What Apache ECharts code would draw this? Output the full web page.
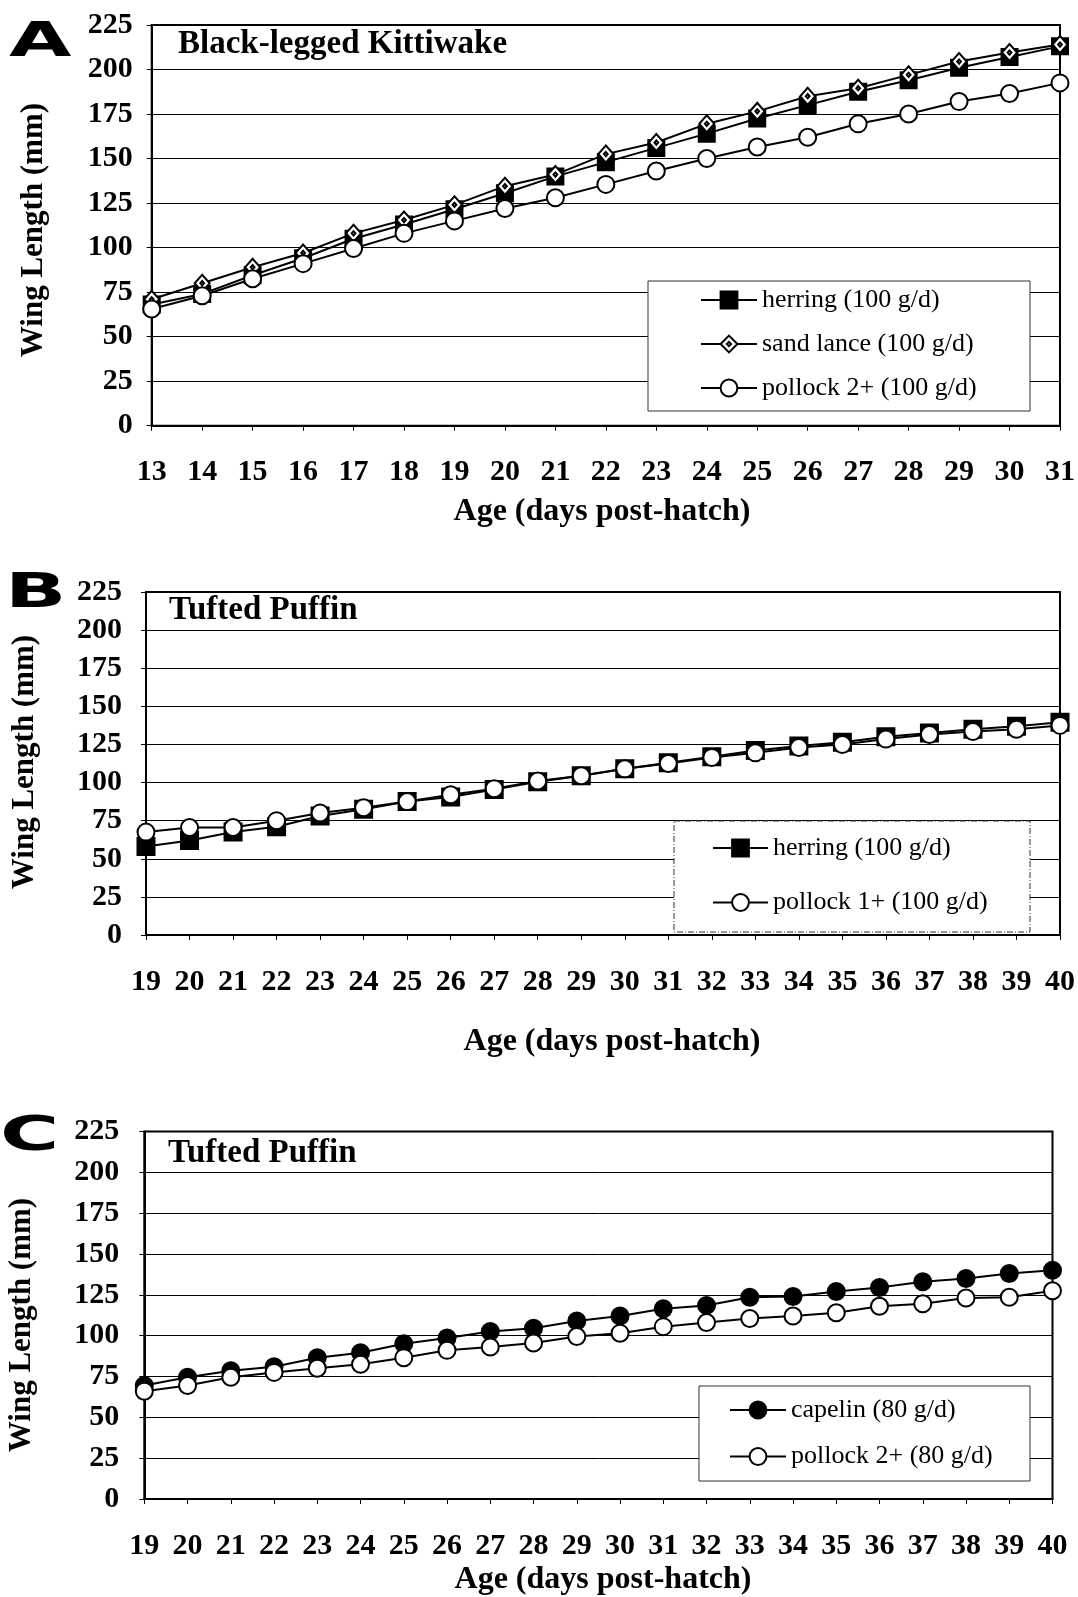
<!DOCTYPE html>
<html>
<head>
<meta charset="utf-8">
<script src="https://cdn.jsdelivr.net/npm/echarts@6/dist/echarts.min.js"></script>
<style>
  html, body { margin: 0; padding: 0; background: #fff; }
  #chart { width: 1078px; height: 1597px; }
</style>
</head>
<body>
<div id="chart"></div>
<script>
// panel A: Black-legged Kittiwake, days 13-31
var daysA = ['13','14','15','16','17','18','19','20','21','22','23','24','25','26','27','28','29','30','31'];
var herringA = [68, 74, 84.5, 94, 105, 113, 121.5, 130.5, 140, 148, 156, 164, 172.5, 180, 187.5, 194, 201, 207, 213];
var sandLanceA = [71, 80, 89, 97, 108, 115.5, 124, 134.5, 141, 152.5, 159, 169.5, 176.5, 185, 189.5, 197, 204.5, 209.5, 214];
var pollockA = [65.5, 73, 82.5, 91, 99.5, 108, 115, 122, 128, 135.5, 143, 150, 156.5, 162, 169.5, 175, 182, 186.5, 192.5];

// panel B: Tufted Puffin, days 19-40
var daysB = ['19','20','21','22','23','24','25','26','27','28','29','30','31','32','33','34','35','36','37','38','39','40'];
var herringB = [58, 62, 67.5, 71, 78, 82.5, 87.5, 90.5, 95.5, 100.5, 104.5, 109, 113, 117, 121, 124, 126.5, 130, 132.5, 135, 137, 139.5];
var pollock1B = [67.5, 70.5, 70.5, 75, 80, 83.5, 87.5, 92, 96, 101, 104.5, 109, 112.5, 116.5, 119.5, 123, 125, 128.5, 131.5, 133.5, 135, 137.5];

// panel C: Tufted Puffin, days 19-40
var daysC = daysB;
var capelinC = [69.5, 74.5, 78.5, 81, 86.5, 89.5, 95, 98.5, 102.5, 104.5, 109, 112, 116.5, 118.5, 123.5, 124, 127, 129.5, 133, 135, 138, 140];
var pollock2C = [66, 69.5, 74.5, 77.5, 80, 82.5, 86.5, 91, 93, 95.5, 99.5, 101.5, 105.5, 108, 110.5, 112, 114, 118, 119.5, 123, 123.5, 127.5];

var yTicks = [0, 225, 25];

var serif = 'Liberation Serif, Times New Roman, serif';
var chart = echarts.init(document.getElementById('chart'), null, { renderer: 'canvas' });

function xAxisOf(i, days) {
  return {
    type: 'category', gridIndex: i, data: days, boundaryGap: false,
    axisLine: { lineStyle: { color: '#000', width: 2 } },
    axisTick: { show: true, length: 5, lineStyle: { color: '#000', width: 1 } },
    axisLabel: { interval: 0, margin: 32, fontFamily: serif, fontSize: 30, lineHeight: 30, fontWeight: 'bold', color: '#000' },
    splitLine: { show: false }
  };
}
function yAxisOf(i, margin) {
  return {
    type: 'value', gridIndex: i, min: yTicks[0], max: yTicks[1], interval: yTicks[2],
    axisLine: { show: true, lineStyle: { color: '#000', width: 2 } },
    axisTick: { show: true, length: 5, lineStyle: { color: '#000', width: 1 } },
    axisLabel: { margin: margin, fontFamily: serif, fontSize: 30, fontWeight: 'bold', color: '#000' },
    splitLine: { show: true, lineStyle: { color: '#000', width: 1 } }
  };
}
var diamond = 'path://M0,-10L10,0L0,10L-10,0Z M0,-2.5L2.5,0L0,2.5L-2.5,0Z';
function lineOf(name, i, data, symbol, size, fill) {
  return {
    name: name, type: 'line', xAxisIndex: i, yAxisIndex: i, data: data,
    symbol: symbol, symbolSize: size, showAllSymbol: true,
    lineStyle: { color: '#000', width: 2 },
    itemStyle: { color: fill, borderColor: '#000', borderWidth: 2 },
    emphasis: { disabled: true }
  };
}
function legendOf(names, left, top, gap, w) {
  return {
    data: names, orient: 'vertical', left: left, top: top, padding: 0,
    itemWidth: w, itemHeight: 21, itemGap: gap, selectedMode: false, z: 6,
    textStyle: { fontFamily: serif, fontSize: 26, color: '#000' }
  };
}
function label(t, x, y, size, align, rot) {
  return {
    type: 'text', x: x, y: y, z: 7, rotation: rot || 0,
    style: { text: t, fontFamily: serif, fontSize: size, fontWeight: 'bold', fill: '#000',
      textAlign: align, textVerticalAlign: 'middle' }
  };
}
function letter(t, x, y) {
  return {
    type: 'text', x: x, y: y, z: 7, scaleX: 1.92, scaleY: 1.15,
    style: { text: t, fontFamily: 'DejaVu Sans', fontSize: 42, fontWeight: 'bold', fill: '#000',
      textAlign: 'left', textVerticalAlign: 'middle' }
  };
}
function box(x, y, w, h, dash) {
  return {
    type: 'rect', z: 5, shape: { x: x, y: y, width: w, height: h },
    style: { fill: '#fff', stroke: '#333', lineWidth: 1, lineDash: dash ? [6, 2, 1, 2] : null }
  };
}

var option = {
  backgroundColor: '#fff',
  animation: false,
  grid: [
    { left: 151.7, top: 25, width: 915.3, height: 400.7, show: true, borderColor: '#000', borderWidth: 2 },
    { left: 146, top: 592, width: 914.7, height: 343, show: true, borderColor: '#000', borderWidth: 2 },
    { left: 144.3, top: 1131.4, width: 908.2, height: 367.6, show: true, borderColor: '#000', borderWidth: 2 }
  ],
  xAxis: [xAxisOf(0, daysA), xAxisOf(1, daysB), xAxisOf(2, daysC)],
  yAxis: [yAxisOf(0, 19), yAxisOf(1, 24), yAxisOf(2, 25)],
  legend: [
    legendOf(['herring (100 g/d)', 'sand lance (100 g/d)', 'pollock 2+ (100 g/d)'], 700, 287, 18, 56),
    legendOf(['herring (100 g/d) ', 'pollock 1+ (100 g/d)'], 712, 835, 28.5, 55),
    legendOf(['capelin (80 g/d)', 'pollock 2+ (80 g/d)'], 729, 1397, 20.5, 56)
  ],
  series: [
    lineOf('herring (100 g/d)', 0, herringA, 'rect', 16, '#000'),
    lineOf('sand lance (100 g/d)', 0, sandLanceA, diamond, [15, 17], '#fff'),
    lineOf('pollock 2+ (100 g/d)', 0, pollockA, 'circle', 17, '#fff'),
    lineOf('herring (100 g/d) ', 1, herringB, 'rect', 17, '#000'),
    lineOf('pollock 1+ (100 g/d)', 1, pollock1B, 'circle', 17, '#fff'),
    lineOf('capelin (80 g/d)', 2, capelinC, 'circle', 17, '#000'),
    lineOf('pollock 2+ (80 g/d)', 2, pollock2C, 'circle', 17, '#fff')
  ],
  graphic: [
    box(648, 281, 382, 130, false),
    box(674, 821, 356, 111, true),
    box(699, 1386, 331, 95, false),
    letter('A', 9, 43),
    letter('B', 5, 594),
    letter('C', 0, 1137),
    label('Black-legged Kittiwake', 178, 44, 33, 'left'),
    label('Tufted Puffin', 169, 610, 33, 'left'),
    label('Tufted Puffin', 168, 1153, 33, 'left'),
    label('Age (days post-hatch)', 602, 512, 32, 'center'),
    label('Age (days post-hatch)', 612, 1042, 32, 'center'),
    label('Age (days post-hatch)', 603, 1580, 32, 'center'),
    label('Wing Length (mm)', 34, 230, 31, 'center', Math.PI / 2),
    label('Wing Length (mm)', 25, 762, 31, 'center', Math.PI / 2),
    label('Wing Length (mm)', 22, 1325, 31, 'center', Math.PI / 2)
  ]
};
chart.setOption(option);
</script>
</body>
</html>
